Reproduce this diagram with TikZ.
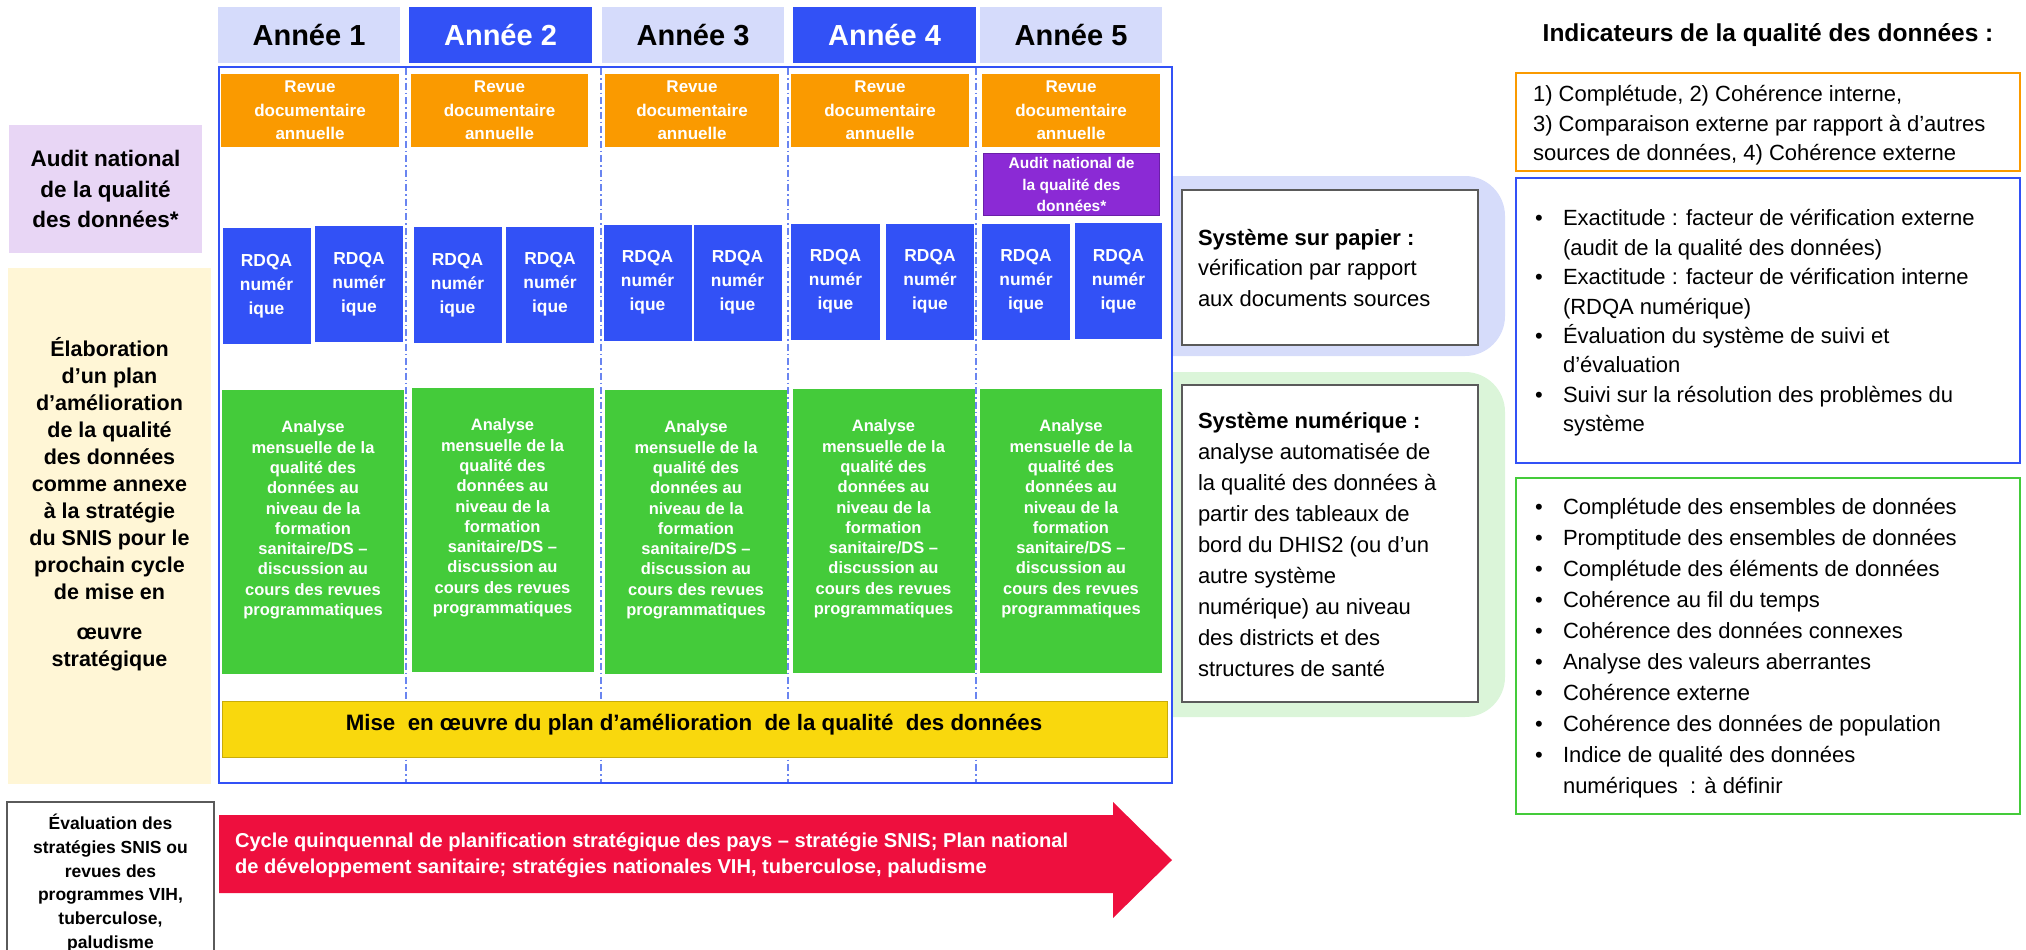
\documentclass[tikz,border=0pt]{standalone}
\usepackage{fontspec}
\setmainfont{Liberation Sans}
\definecolor{hlav}{HTML}{D5DBFB}
\definecolor{bluec}{HTML}{3251F6}
\definecolor{orangec}{HTML}{FA9A00}
\definecolor{purplec}{HTML}{8B2AD5}
\definecolor{purpled}{HTML}{6A1FA8}
\definecolor{greenc}{HTML}{44CB3A}
\definecolor{yellowc}{HTML}{F9D80D}
\definecolor{yellowd}{HTML}{C8AC0A}
\definecolor{leftlav}{HTML}{E8D6F5}
\definecolor{leftyel}{HTML}{FFF6D6}
\definecolor{redc}{HTML}{EE0F3E}
\definecolor{bglav}{HTML}{D6DCFA}
\definecolor{bggreen}{HTML}{DBF5D9}
\definecolor{divc}{HTML}{6A85F0}
\definecolor{grayb}{HTML}{5A5A5A}
\newcommand\mybul{\makebox[28pt][l]{•}}
\newcommand\myind{\hspace*{28pt}}
\begin{document}
\begin{tikzpicture}[x=1pt,y=-1pt,
  every node/.style={inner sep=0pt,outer sep=0pt,anchor=center},
  hdrl/.style={fill=hlav,text=black,font=\fontsize{29}{34}\selectfont\bfseries,minimum width=182,minimum height=56},
  hdrb/.style={fill=bluec,text=white,font=\fontsize{29}{34}\selectfont\bfseries,minimum width=183,minimum height=56},
  revbox/.style={fill=orangec,text=white,align=center,font=\fontsize{17}{23.5}\selectfont\bfseries,minimum height=73},
  rdqabox/.style={fill=bluec,text=white,align=center,font=\fontsize{17.4}{24}\selectfont\bfseries,minimum width=88,minimum height=116},
  gbox/.style={fill=greenc,minimum width=182,minimum height=284},
  gtext/.style={text=white,align=center,font=\fontsize{16.5}{20.3}\selectfont\bfseries},
  divline/.style={divc,line width=1.2,dash pattern=on 7pt off 3pt on 1.5pt off 3pt},
  sysbox/.style={draw=grayb,line width=1.5,fill=white,minimum width=296},
  systext/.style={align=left,anchor=west,font=\fontsize{22}{30.7}\selectfont},
  rtext/.style={align=left,anchor=west,font=\fontsize{22}{29.4}\selectfont}
]
\useasboundingbox (0,0) rectangle (2026,950);

% year headers
\node[hdrl] (h1) at (309,35) {Année 1};
\node[hdrb] (h2) at (500.5,35) {Année 2};
\node[hdrl] (h3) at (693,35) {Année 3};
\node[hdrb] (h4) at (884.5,35) {Année 4};
\node[hdrl] (h5) at (1071,35) {Année 5};

% column dividers
\foreach \xx in {406,601,788,976}{\draw[divline] (\xx,68) -- (\xx,782);}

% main frame
\draw[bluec,line width=2.5] (219,67) rectangle (1172,783);

% annual reviews
\node[revbox,minimum width=178] (o1) at (310,110.5) {Revue\\documentaire\\annuelle};
\node[revbox,minimum width=177] (o2) at (499.5,110.5) {Revue\\documentaire\\annuelle};
\node[revbox,minimum width=174] (o3) at (692,110.5) {Revue\\documentaire\\annuelle};
\node[revbox,minimum width=178] (o4) at (880,110.5) {Revue\\documentaire\\annuelle};
\node[revbox,minimum width=178] (o5) at (1071,110.5) {Revue\\documentaire\\annuelle};

% purple audit
\node[fill=purplec,draw=purpled,line width=1.5,text=white,align=center,font=\fontsize{15.5}{21.5}\selectfont\bfseries,minimum width=176,minimum height=62] (pa) at (1071.5,184.5) {Audit national de\\la qualité des\\données*};

% RDQA boxes
\node[rdqabox] (r1a) at (266.5,286) {RDQA\\numér\\ique};
\node[rdqabox] (r1b) at (359,284) {RDQA\\numér\\ique};
\node[rdqabox] (r2a) at (457.5,285) {RDQA\\numér\\ique};
\node[rdqabox] (r2b) at (550,284.5) {RDQA\\numér\\ique};
\node[rdqabox] (r3a) at (647.5,282.5) {RDQA\\numér\\ique};
\node[rdqabox] (r3b) at (737.5,282.5) {RDQA\\numér\\ique};
\node[rdqabox,minimum width=89] (r4a) at (835.5,281.5) {RDQA\\numér\\ique};
\node[rdqabox] (r4b) at (930,281.5) {RDQA\\numér\\ique};
\node[rdqabox] (r5a) at (1026,281.5) {RDQA\\numér\\ique};
\node[rdqabox,minimum width=87] (r5b) at (1118.5,281) {RDQA\\numér\\ique};

% green monthly analysis
\foreach \nm/\cx/\cy in {1/313/532,2/502.5/530,3/696/532,4/883.5/531,5/1071/531}{
  \node[gbox] (g\nm) at (\cx,\cy) {};
  \node[gtext] (gt\nm) at (\cx,\cy-12) {Analyse\\mensuelle de la\\qualité des\\données au\\niveau de la\\formation\\sanitaire/DS –\\discussion au\\cours des revues\\programmatiques};
}

% yellow implementation bar
\node[fill=yellowc,draw=yellowd,line width=1.5,minimum width=945,minimum height=56] (ybar) at (695,729.5) {};
\node[font=\fontsize{22.3}{26}\selectfont\bfseries] (ybart) at (694,725) {Mise\ \ en œuvre du plan d’amélioration\ \ de la qualité\ \ des données};

% left boxes
\node[fill=leftlav,minimum width=193,minimum height=128,align=center,font=\fontsize{22.5}{30.5}\selectfont\bfseries] (laudit) at (105.5,189) {Audit national\\de la qualité\\des données*};
\node[fill=leftyel,minimum width=203,minimum height=516] (lplan) at (109.5,526) {};
\node[align=center,font=\fontsize{21.5}{27}\selectfont\bfseries] (lplant) at (109.5,504) {Élaboration\\d’un plan\\d’amélioration\\de la qualité\\des données\\comme annexe\\à la stratégie\\du SNIS pour le\\prochain cycle\\de mise en\\[13pt]œuvre\\stratégique};
\draw[grayb,line width=1.5] (7,951) -- (7,802) -- (214,802) -- (214,951);
\node[align=center,font=\fontsize{17.5}{23.8}\selectfont\bfseries] (leval) at (110.5,883) {Évaluation des\\stratégies SNIS ou\\revues des\\programmes VIH,\\tuberculose,\\paludisme};

% red arrow
\fill[redc] (219,815) -- (1113,815) -- (1113,802) -- (1172,860) -- (1113,918) -- (1113,893) -- (219,893) -- cycle;
\node[anchor=west,align=left,text=white,font=\fontsize{20.1}{26}\selectfont\bfseries] (cycle) at (235,855) {Cycle quinquennal de planification stratégique des pays – stratégie SNIS; Plan national\\de développement sanitaire; stratégies nationales VIH, tuberculose, paludisme};

% middle right backgrounds
\begin{scope}
\clip (1173,0) rectangle (1600,950);
\fill[bglav,rounded corners=40] (1100,176) rectangle (1505,356);
\fill[bggreen,rounded corners=40] (1100,372) rectangle (1505,717);
\end{scope}
\node[sysbox,minimum height=155] (spap) at (1330,267.5) {};
\node[systext] (spapt) at (1198,268) {\textbf{Système sur papier :}\\vérification par rapport\\aux documents sources};
\node[sysbox,minimum height=317] (snum) at (1330,543.5) {};
\node[systext,font=\fontsize{22}{31}\selectfont] (snumt) at (1198,545) {\textbf{Système numérique :}\\analyse automatisée de\\la qualité des données à\\partir des tableaux de\\bord du DHIS2 (ou d’un\\autre système\\numérique) au niveau\\des districts et des\\structures de santé};

% right column
\node[font=\fontsize{24.5}{29}\selectfont\bfseries] (title) at (1768,35) {Indicateurs de la qualité des données :};
\node[draw=orangec,line width=2,minimum width=504,minimum height=98] (ib1) at (1768,122) {};
\node[rtext] (ib1t) at (1533,125.5) {1) Complétude, 2) Cohérence interne,\\3) Comparaison externe par rapport à d’autres\\sources de données, 4) Cohérence externe};
\node[draw=bluec,line width=2,minimum width=504,minimum height=285] (ib2) at (1768,320.5) {};
\node[rtext] (ib2t) at (1535,323) {\mybul Exactitude : facteur de vérification externe\\\myind(audit de la qualité des données)\\\mybul Exactitude : facteur de vérification interne\\\myind(RDQA numérique)\\\mybul Évaluation du système de suivi et\\\myind d’évaluation\\\mybul Suivi sur la résolution des problèmes du\\\myind système};
\node[draw=greenc,line width=2,minimum width=504,minimum height=336] (ib3) at (1768,646) {};
\node[rtext,font=\fontsize{22}{31}\selectfont] (ib3t) at (1535,648.5) {\mybul Complétude des ensembles de données\\\mybul Promptitude des ensembles de données\\\mybul Complétude des éléments de données\\\mybul Cohérence au fil du temps\\\mybul Cohérence des données connexes\\\mybul Analyse des valeurs aberrantes\\\mybul Cohérence externe\\\mybul Cohérence des données de population\\\mybul Indice de qualité des données\\\myind numériques\ \ : à définir};
\end{tikzpicture}
\end{document}
